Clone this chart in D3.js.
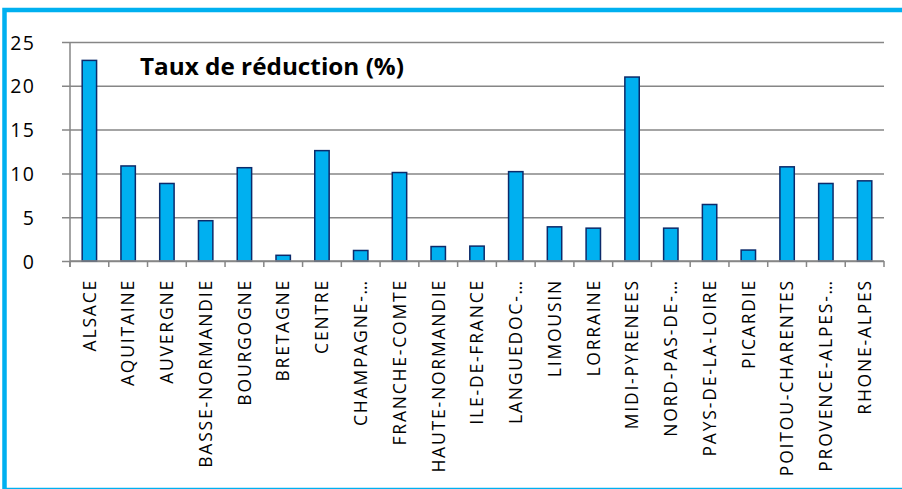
<!DOCTYPE html>
<html><head><meta charset="utf-8">
<script src="https://cdn.jsdelivr.net/npm/d3@7"></script>
<style>html,body{margin:0;padding:0;background:#fff;overflow:hidden}</style>
</head><body>
<svg id="c" width="902" height="489"></svg>
<script>
const categories = ["ALSACE","AQUITAINE","AUVERGNE","BASSE-NORMANDIE","BOURGOGNE","BRETAGNE","CENTRE","CHAMPAGNE-…","FRANCHE-COMTE","HAUTE-NORMANDIE","ILE-DE-FRANCE","LANGUEDOC-…","LIMOUSIN","LORRAINE","MIDI-PYRENEES","NORD-PAS-DE-…","PAYS-DE-LA-LOIRE","PICARDIE","POITOU-CHARENTES","PROVENCE-ALPES-…","RHONE-ALPES"];
const values = [22.9,10.85,8.85,4.6,10.65,0.65,12.6,1.2,10.1,1.65,1.7,10.2,3.9,3.75,21.0,3.75,6.45,1.25,10.75,8.85,9.15];
const yTicks = [0,5,10,15,20,25];
const title = "Taux de réduction (%)";

const svg = d3.select("#c");
// frame
svg.append("rect").attr("x",4.5).attr("y",10).attr("width",910).attr("height",480)
  .attr("fill","none").attr("stroke","#00b0f0").attr("stroke-width",4.5);

const pLeft=70, pRight=884, pTop=42, pBottom=261;
const x = d3.scaleBand().domain(categories).range([pLeft,pRight]).paddingInner(0.59).paddingOuter(0.295);
const xb = d3.scaleBand().domain(categories).range([pLeft,pRight]).padding(0);
const y = d3.scaleLinear().domain([0,25]).range([pBottom,pTop]);

// gridlines + y axis
const ya = svg.append("g").attr("transform",`translate(${pLeft},0)`)
  .call(d3.axisLeft(y).tickValues(yTicks).tickSize(8).tickPadding(27).tickFormat(d3.format("d")));
ya.select(".domain").remove();
ya.selectAll(".tick line").attr("stroke","#868686").attr("stroke-width",1.5).attr("x2",pRight-pLeft).attr("x1",-8);
ya.selectAll(".tick text").attr("font-family","'Open Sans', sans-serif").attr("font-size",19.5)
  .attr("letter-spacing",1.2).attr("fill","#000").attr("dy","0.36em");
svg.append("line").attr("x1",pLeft).attr("x2",pLeft).attr("y1",pTop).attr("y2",pBottom+6)
  .attr("stroke","#868686").attr("stroke-width",1.5);

// bars
svg.append("g").selectAll("rect").data(categories).join("rect")
  .attr("x",d=>x(d)+0.75).attr("width",x.bandwidth()-1.5)
  .attr("y",(d,i)=>y(values[i])).attr("height",(d,i)=>pBottom-y(values[i]))
  .attr("fill","#00b0f0").attr("stroke","#0c2a6a").attr("stroke-width",1.5);

// x axis
const xa = svg.append("g").attr("transform",`translate(0,${pBottom})`)
  .call(d3.axisBottom(xb).tickSize(0).tickFormat(""));
xa.select(".domain").attr("stroke","#868686").attr("stroke-width",1.5).attr("d",`M${pLeft},0H${pRight}`);
const bounds = categories.map(d=>xb(d)).concat([pRight]);
svg.append("g").selectAll("line").data(bounds).join("line")
  .attr("x1",d=>d).attr("x2",d=>d).attr("y1",pBottom).attr("y2",pBottom+6)
  .attr("stroke","#868686").attr("stroke-width",1.5);
svg.append("g").selectAll("text").data(categories).join("text")
  .attr("transform",d=>`translate(${xb(d)+xb.bandwidth()/2+6.3},${pBottom+18}) rotate(-90)`)
  .attr("text-anchor","end")
  .attr("font-family","'Open Sans', sans-serif").attr("font-size",17.5).attr("letter-spacing",1.8)
  .attr("fill","#000")
  .text(d=>d);

// title
svg.append("text").attr("x",140).attr("y",75).attr("font-family","'Open Sans', sans-serif")
  .attr("font-weight","bold").attr("font-size",23).attr("fill","#000")
  .attr("textLength",264).attr("lengthAdjust","spacingAndGlyphs").text(title);
</script>
</body></html>
